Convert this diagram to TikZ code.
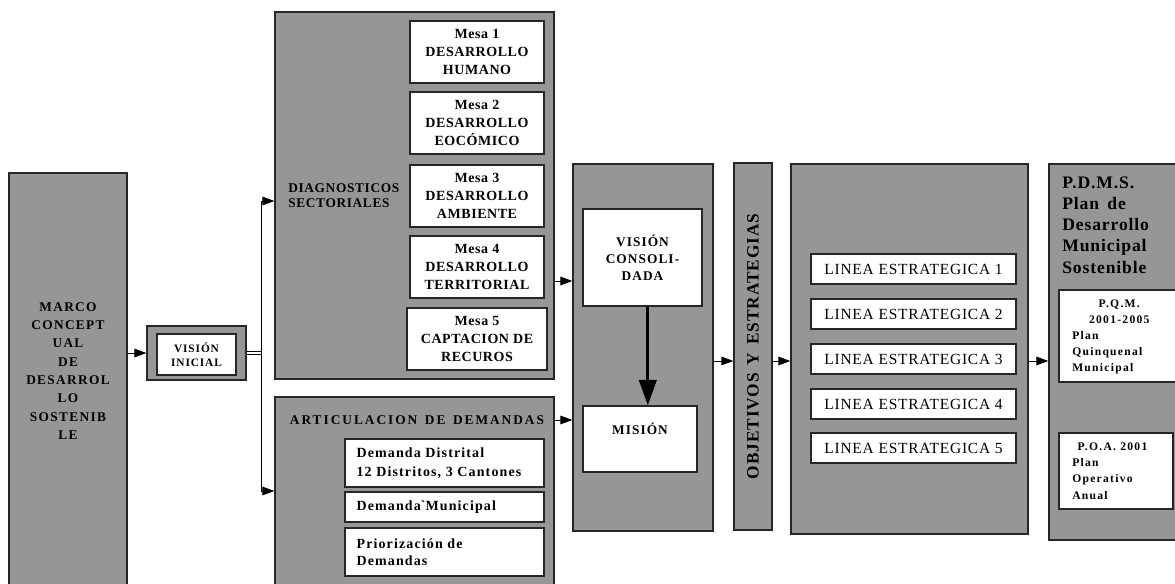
\documentclass[tikz,border=0pt]{standalone}
\usepackage{fontspec}
\setmainfont{Liberation Serif}
\usetikzlibrary{arrows.meta}
\definecolor{boxgray}{RGB}{150,150,150}
\newcommand\bfs[3]{\bfseries\fontsize{#1}{#2}\selectfont\addfontfeatures{LetterSpace=#3}}
\tikzset{
  graybox/.style={draw=black!85, fill=boxgray, line width=1pt, inner sep=0pt, align=center},
  whitebox/.style={draw=black!85, fill=white, line width=1pt, inner sep=0pt, align=center},
  spanbox/.style n args={4}{minimum width={(#3-#1)*0.75pt}, minimum height={(#4-#2)*0.75pt},
    at={({(#1+#3)/2},{(#2+#4)/2})}},
  txt/.style={inner sep=0pt, align=left},
  arr/.style={-{Triangle[length=9pt,width=6.5pt]}, line width=0.7pt},
  bigarr/.style={-{Triangle[length=19pt,width=13pt]}, line width=2.3pt},
}

\begin{document}
\begin{tikzpicture}[x=0.75pt, y=-0.75pt]
    \useasboundingbox (0,0) rectangle (1175,584);

    % marco y vision inicial
    \node[graybox, spanbox={9}{173}{127}{590}] (marco) {};
    \node[txt, align=center, font=\bfs{10}{13.75}{10}] (marcolbl) at (68,371)
        {MARCO\\CONCEPT\\UAL\\DE\\DESARROL\\LO\\SOSTENIB\\LE};
    \node[graybox, spanbox={147}{326}{246}{380}] (vini) {};
    \node[whitebox, spanbox={157}{334}{236}{375}, font=\bfs{8.5}{10.5}{8}] (vinitxt) {VISIÓN\\INICIAL};

    % diagnosticos sectoriales
    \node[graybox, spanbox={275}{12}{554}{379}] (diag) {};
    \node[txt, anchor=west, font=\bfs{10}{11.25}{5}] (diaglbl) at (288,196) {DIAGNOSTICOS\\SECTORIALES};
    \foreach \k/\ya/\t in {1/21/HUMANO,2/92/EOCÓMICO,3/165/AMBIENTE,4/236/TERRITORIAL}
        \node[whitebox, spanbox={410}{\ya}{544}{\ya+62}, font=\bfs{10.5}{13.5}{4}] (mesa\k)
            {Mesa \k\\DESARROLLO\\\t};
    \node[whitebox, spanbox={407}{308}{547}{370}, font=\bfs{10.5}{13.5}{4}] (mesa5)
        {Mesa 5\\CAPTACION DE\\RECUROS};

    % articulacion de demandas
    \node[graybox, spanbox={275}{397}{554}{586}] (artic) {};
    \node[txt, font=\bfs{10}{12}{15}] (artlbl) at (417,420) {ARTICULACION\, DE\, DEMANDAS};
    \node[whitebox, spanbox={345}{439}{544}{487}] (dem1) {};
    \node[whitebox, spanbox={345}{492}{544}{522}] (dem2) {};
    \node[whitebox, spanbox={345}{528}{544}{576}] (dem3) {};
    \node[txt, anchor=west, font=\bfs{10.5}{14.5}{8}] (dem1txt) at ([xshift=9pt]dem1.west)
        {Demanda Distrital\\12 Distritos, 3 Cantones};
    \node[txt, anchor=west, font=\bfs{10.5}{14.5}{8}] (dem2txt) at ([xshift=9pt]dem2.west)
        {Demanda\textasciigrave Municipal};
    \node[txt, anchor=west, font=\bfs{10.5}{12.5}{8}] (dem3txt) at ([xshift=9pt]dem3.west)
        {Priorización de\\Demandas};

    % vision consolidada y mision
    \node[graybox, spanbox={573}{164}{713}{531}] (cont) {};
    \node[whitebox, spanbox={583}{209}{702}{306}, font=\bfs{10}{12.75}{8}] (vcons) {VISIÓN\\CONSOLI-\\DADA};
    \node[whitebox, spanbox={583}{406}{697}{472}, font=\bfs{10}{12.75}{8}] (mision) {MISIÓN\\[2pt]};

    % objetivos
    \node[graybox, spanbox={734}{163}{772}{530}] (obj) {};
    \node[rotate=90, inner sep=0pt, font=\bfs{13}{15}{5}] (objlbl) at (obj.center) {OBJETIVOS\, Y\, ESTRATEGIAS};

    % lineas estrategicas
    \node[graybox, spanbox={791}{164}{1028}{534}] (lineas) {};
    \foreach \k/\y in {1/254,2/299,3/344,4/389,5/433}
        \node[whitebox, spanbox={811}{\y}{1016}{\y+30}, font=\fontsize{11.6}{13}\selectfont\addfontfeatures{LetterSpace=5}] (lin\k)
            {LINEA ESTRATEGICA \k};

    % pdms
    \node[graybox, spanbox={1049}{164}{1185}{540}] (pdms) {};
    \node[txt, anchor=west, font=\bfs{13.2}{15.9}{5}] (pdmslbl) at (1062,225)
        {P.D.M.S.\\Plan\, de\\Desarrollo\\Municipal\\Sostenible};
    \node[whitebox, spanbox={1059}{290}{1185}{382}] (pqm) {};
    \node[txt, anchor=west, text width=70.5pt, font=\bfs{8.7}{11.9}{11}] (pqmtxt) at (1072,337)
        {{\centering P.Q.M.\\2001-2005\par}\raggedright Plan\\Quinquenal\\Municipal};
    \node[whitebox, spanbox={1059}{433}{1173}{509}] (poa) {};
    \node[txt, anchor=west, font=\bfs{8.7}{12.2}{11}] (poatxt) at (1072,471)
        {\hspace*{4pt}P.O.A. 2001\\Plan\\Operativo\\Anual};

    % conectores
    \coordinate (split) at (261,353);
    \coordinate (d0) at (0,201);
    \coordinate (d1) at (0,281);
    \coordinate (d2) at (0,491);
    \coordinate (r) at (0,361);
    \draw[arr] (marco.east |- vini.west) -- (vini.west);
    \draw[double, double distance=2pt, line width=0.6pt] (vini.east) -- (split);
    \draw[arr] (split) |- (diag.west |- d0);
    \draw[arr] (split) |- (artic.west |- d2);
    \draw[arr] (diag.east |- d1) -- (cont.west |- d1);
    \draw[arr] (artic.east |- artlbl) -- (cont.west |- artlbl);
    \draw[bigarr] ([xshift=4pt]vcons.south) -- ([xshift=4pt]vcons.south |- mision.north);
    \draw[arr] (cont.east |- r) -- (obj.west |- r);
    \draw[arr] (obj.east |- r) -- (lineas.west |- r);
    \draw[arr] (lineas.east |- r) -- (pdms.west |- r);
\end{tikzpicture}
\end{document}
